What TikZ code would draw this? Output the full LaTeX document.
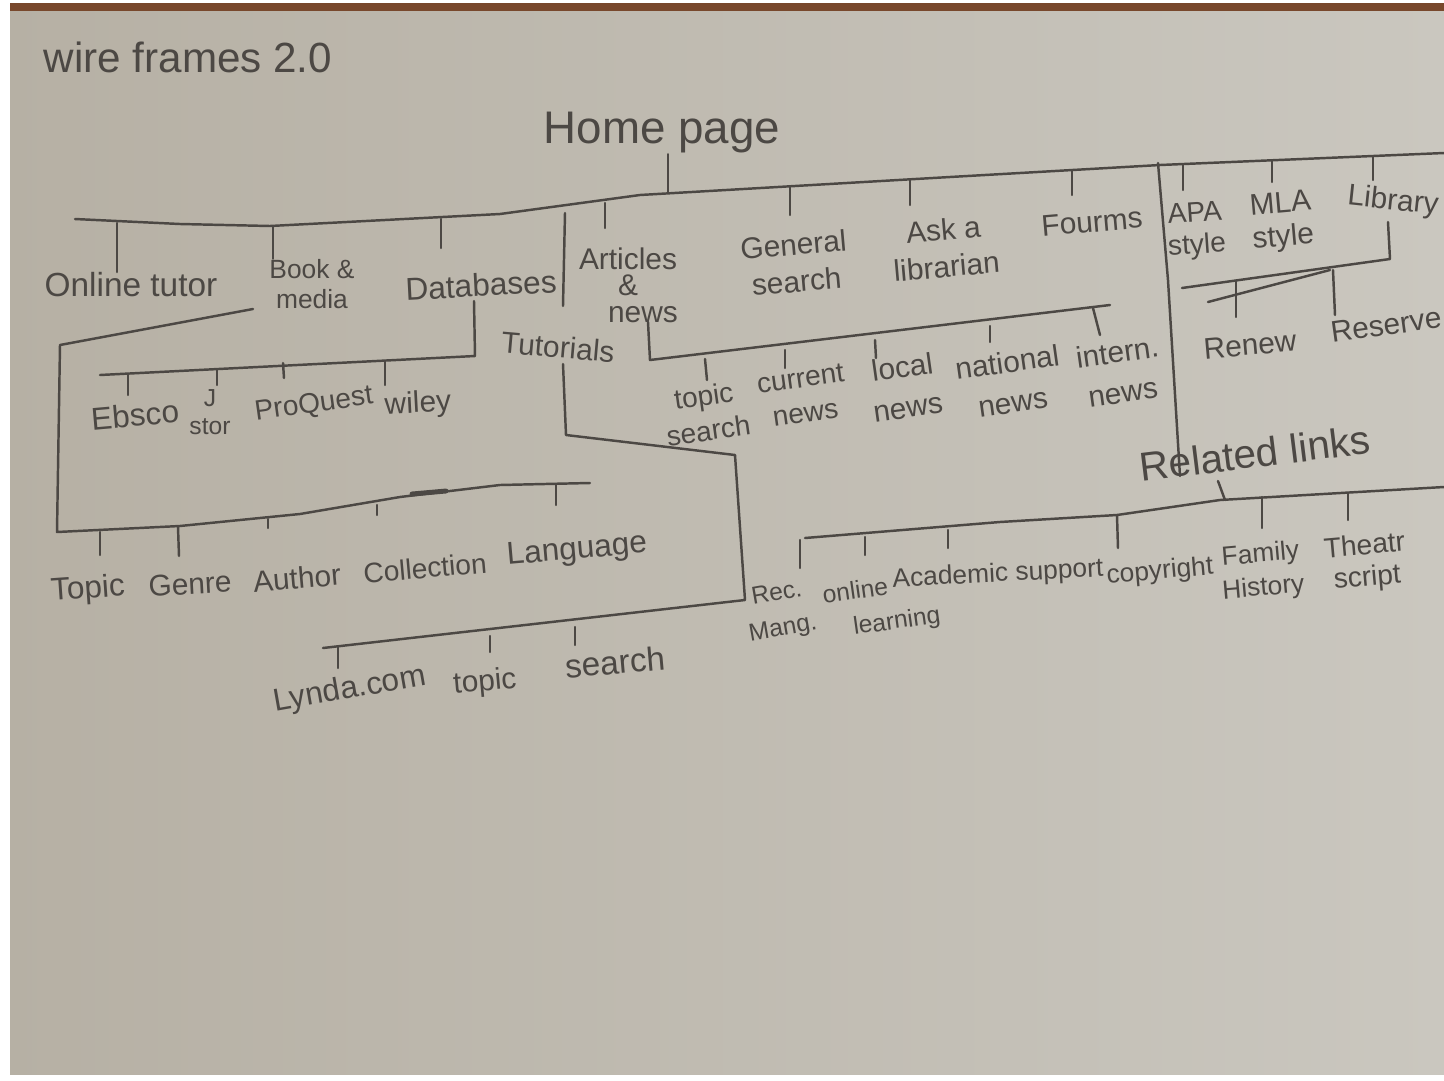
\documentclass[tikz,border=0pt]{standalone}
\usepackage{fontspec}
\setmainfont{Liberation Sans}
\definecolor{paperL}{RGB}{182,176,164}
\definecolor{paperR}{RGB}{202,199,191}
\definecolor{pencil}{RGB}{76,72,68}
\definecolor{tape}{RGB}{120,72,44}
\begin{document}
\begin{tikzpicture}[x=0.01cm,y=-0.01cm,
  pen/.style={draw=pencil,line width=0.7pt,line cap=round,line join=round},
  lbl/.style={text=pencil,inner sep=0pt,align=center},
  fs/.style={font=\fontsize{#1}{#1}\selectfont}]
\useasboundingbox (0,0) rectangle (1444,1081);
% paper
\shade[left color=paperL,right color=paperR] (0,0) rectangle (1444,1081);
\fill[white] (0,0) rectangle (1444,3);
\fill[tape] (10,3) rectangle (1444,11);
\fill[white] (0,0) rectangle (10,1081);
\fill[white] (0,1075) rectangle (1444,1081);

% titles
\node[lbl,fs=12] (title) at (188,57) {wire frames 2.0};
\node[lbl,fs=13] (home) at (662,133) {Home page};

% main bus
\draw[pen] (75,219) -- (180,224) -- (270,226) -- (500,214) -- (640,195) -- (950,177) -- (1160,165) -- (1444,153);
\coordinate (hpj) at (668,193);
\draw[pen] (hpj) -- (hpj |- home.south);

% level-1 labels
\node[lbl,fs=9.5] (onl) at (131,285) {Online tutor};
\node[lbl,fs=7.5] (bk) at (312,284) {Book \&\\[1pt]media};
\node[lbl,fs=9,rotate=3] (db) at (481,285) {Databases};
\node[lbl,fs=8.5] (art) at (628,285) {Articles\\[-1pt]\&\\[-1pt]\hspace*{1em}news};
\node[lbl,fs=8.5,rotate=5] (gen) at (795,263) {General\\[2pt]search};
\node[lbl,fs=8.5,rotate=5] (ask) at (945,248) {Ask a\\[2pt]librarian};
\node[lbl,fs=8.5,rotate=5] (fou) at (1092,222) {Fourms};
\node[lbl,fs=8,rotate=4] (apa) at (1196,231) {APA\\[1pt]style};
\node[lbl,fs=8.5,rotate=5] (mla) at (1282,222) {MLA\\[1pt]style};
\node[lbl,fs=8.5,rotate=-6] (lib) at (1393,202) {Library};

% level-1 ticks
\draw[pen] (117,223) coordinate (j1) -- (j1 |- onl.north);
\draw[pen] (273,227) coordinate (j2) -- (j2 |- bk.north);
\draw[pen] (441,219) coordinate (j3) -- (441,248);
\draw[pen] (605,203) coordinate (j4) -- (605,228);
\draw[pen] (790,186) coordinate (j5) -- (790,215);
\draw[pen] (910,180) coordinate (j6) -- (910,205);
\draw[pen] (1072,170) coordinate (j7) -- (1072,195);
\draw[pen] (1183,165) coordinate (j8) -- (1183,190);
\draw[pen] (1272,160) coordinate (j9) -- (1272,182);
\draw[pen] (1373,157) coordinate (j10) -- (1373,180);

% separators
\draw[pen] (565,213) -- (563,306);
\draw[pen] (1158,163) -- (1168,280) -- (1180,476);

% Library sub
\node[lbl,fs=8.5,rotate=5] (ren) at (1250,345) {Renew};
\node[lbl,fs=8.5,rotate=8] (res) at (1386,325) {Reserve};
\draw[pen] (1388,222) -- (1390,259) -- (1182,288);
\draw[pen] (1208,302) -- (1330,270);
\draw[pen] (1236,281) coordinate (r1) -- (1236,317);
\draw[pen] (1333,270) coordinate (r2) -- (1335,315);

% Databases sub
\node[lbl,fs=9,rotate=5] (ebs) at (135,415) {Ebsco};
\node[lbl,fs=7] (jst) at (210,412) {J\\[1pt]stor};
\node[lbl,fs=8,rotate=8] (pro) at (314,405) {ProQuest};
\node[lbl,fs=8.5,rotate=3] (wil) at (418,405) {wiley};
\draw[pen] (474,301) -- (475,356) -- (100,375);
\draw[pen] (128,374) -- (128,395);
\draw[pen] (217,370) -- (217,385);
\draw[pen] (283,363) -- (284,378);
\draw[pen] (385,361) -- (385,385);

% Book & media sub
\node[lbl,fs=9,rotate=4] (top1) at (88,590) {Topic};
\node[lbl,fs=8.5,rotate=3] (gnr) at (190,584) {Genre};
\node[lbl,fs=8.5,rotate=5] (aut) at (297,578) {Author};
\node[lbl,fs=8,rotate=5] (col) at (425,568) {Collection};
\node[lbl,fs=9,rotate=5] (lan) at (577,551) {Language};
\draw[pen] (253,309) -- (60,345) -- (57,532) -- (180,526) -- (300,514) -- (400,497) -- (500,485) -- (590,483);
\draw[pencil,line width=1.4pt,line cap=round] (412,494) -- (446,491);
\draw[pen] (100,532) -- (100,555);
\draw[pen] (178,527) -- (179,556);
\draw[pen] (268,519) -- (268,528);
\draw[pen] (377,505) -- (377,515);
\draw[pen] (556,484) -- (556,505);

% Tutorials
\node[lbl,fs=8.5,rotate=-5] (tut) at (558,347) {Tutorials};
\draw[pen] (563,364) -- (566,435) -- (735,455) -- (745,600) -- (323,648);
\node[lbl,fs=9,rotate=10] (lyn) at (350,690) {Lynda.com};
\node[lbl,fs=8.5,rotate=5] (top2) at (485,683) {topic};
\node[lbl,fs=9.5,rotate=5] (sea) at (615,662) {search};
\draw[pen] (338,647) -- (338,668);
\draw[pen] (490,636) -- (490,652);
\draw[pen] (575,627) -- (575,645);

% Articles sub
\draw[pen] (648,322) -- (650,360) -- (1110,305);
\node[lbl,fs=8,rotate=8] (tps) at (706,413) {topic\\[2pt]search};
\node[lbl,fs=8,rotate=8] (cur) at (803,396) {current\\[2pt]news};
\node[lbl,fs=8.5,rotate=8] (loc) at (905,387) {local\\[3pt]news};
\node[lbl,fs=8.5,rotate=8] (nat) at (1010,382) {national\\[3pt]news};
\node[lbl,fs=8.5,rotate=8] (int) at (1120,372) {intern.\\[3pt]news};
\draw[pen] (705,359) -- (707,380);
\draw[pen] (785,350) -- (785,368);
\draw[pen] (875,340) -- (876,358);
\draw[pen] (990,326) -- (990,342);
\draw[pen] (1093,308) -- (1100,335);

% Related links
\node[lbl,fs=11.5,rotate=7] (rel) at (1255,453) {Related links};
\draw[pen] (805,538) -- (1000,522) -- (1117,515) -- (1220,500) -- (1444,487);
\draw[pen] (1218,481) -- (1225,500);
\node[lbl,fs=7,rotate=10] (rec) at (780,612) {Rec.\\[3pt]Mang.};
\node[lbl,fs=7,rotate=8] (onlr) at (858,610) {online\\[3pt]\hspace*{3em}learning};
\node[lbl,fs=7.5,rotate=3] (aca) at (998,575) {Academic support};
\node[lbl,fs=7.5,rotate=5] (cop) at (1160,572) {copyright};
\node[lbl,fs=7.5,rotate=5] (fam) at (1262,572) {Family\\[2pt]History};
\node[lbl,fs=8,rotate=5] (the) at (1366,563) {Theatr\\[1pt]script};
\draw[pen] (800,540) -- (800,568);
\draw[pen] (865,537) -- (865,555);
\draw[pen] (948,530) -- (948,548);
\draw[pen] (1117,515) -- (1118,548);
\draw[pen] (1262,497) -- (1262,528);
\draw[pen] (1348,493) -- (1348,520);
\end{tikzpicture}
\end{document}
